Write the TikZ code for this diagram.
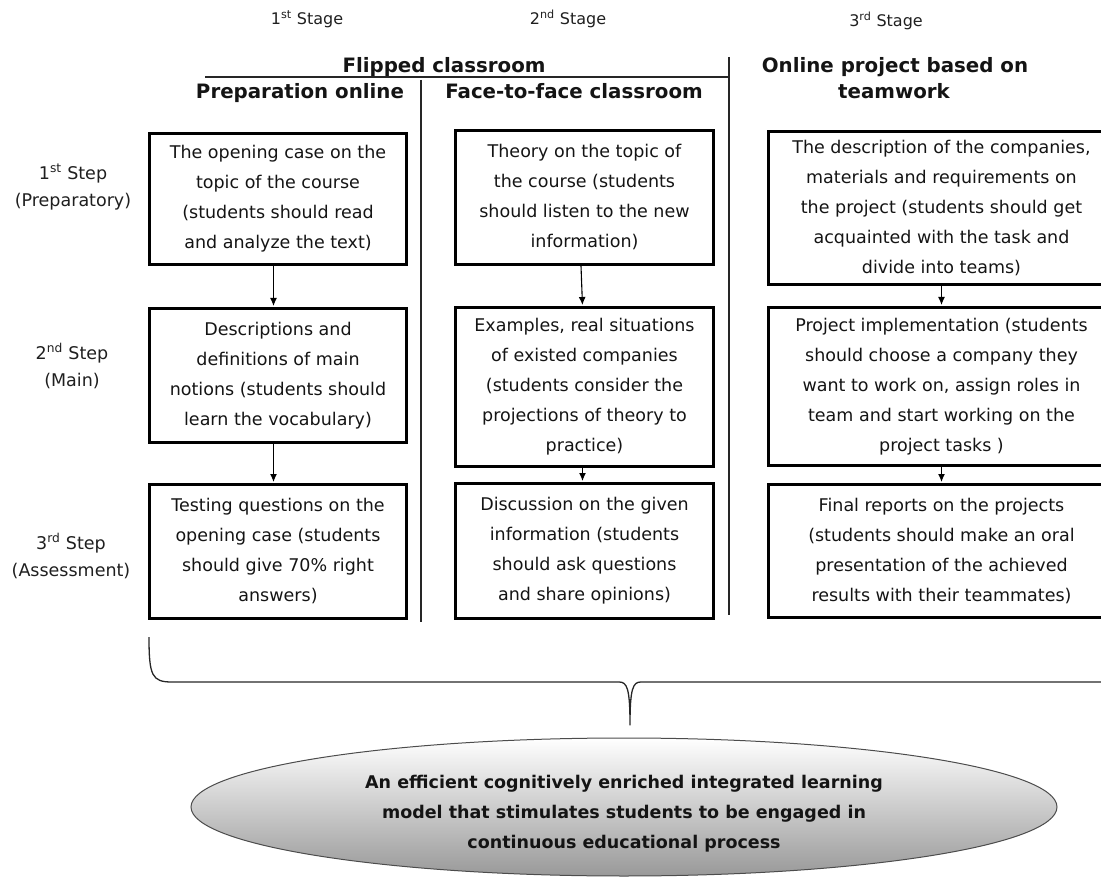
\documentclass[tikz,border=0pt]{standalone}
\usepackage{fontspec}
\setmainfont{DejaVu Sans}
\usetikzlibrary{arrows.meta,shapes.geometric}
\begin{document}
\begin{tikzpicture}[x=1pt,y=-1pt,
  stepbox/.style={draw=black, line width=3pt, align=center, inner sep=0pt,
    anchor=north west, font=\fontsize{17.5}{30}\selectfont, text=black!92},
  steplabel/.style={align=center, inner sep=0pt, font=\fontsize{17.5}{27}\selectfont, text=black!88},
  stagelabel/.style={anchor=base, inner sep=0pt, font=\fontsize{16}{18}\selectfont, text=black!88},
  hdr/.style={anchor=base, inner sep=0pt, font=\bfseries\fontsize{19.8}{24}\selectfont, text=black!92},
  arr/.style={line width=1.1pt, -{Latex[length=8pt,width=7pt]}, shorten >=1pt},
  rule/.style={line width=1.3pt, black!85},
  goal/.style={ellipse, draw=black!70, line width=1pt, top color=white, bottom color=black!40,
    minimum width=866pt, minimum height=138pt, inner sep=0pt},
  goaltext/.style={align=center, inner sep=0pt, font=\bfseries\fontsize{17.5}{30}\selectfont, text=black!92}
]
\useasboundingbox (0,0) rectangle (1101,877);

% stage labels
\node[stagelabel] (s1) at (307,25) {1\textsuperscript{st} Stage};
\node[stagelabel] (s2) at (568,25) {2\textsuperscript{nd} Stage};
\node[stagelabel] (s3) at (886,27) {3\textsuperscript{rd} Stage};

% headers
\node[hdr] (fc) at (444,73) {Flipped classroom};
\node[hdr] (po) at (300,99) {Preparation online};
\node[hdr] (ff) at (574,99) {Face-to-face classroom};
\node[hdr] (op) at (895,73) {Online project based on};
\node[hdr] (tw) at (894,99) {teamwork};

% separators
\draw[rule] (205,77) -- (729,77);
\draw[rule] (421,80) -- (421,622);
\draw[rule] (729,57) -- (729,615);

% step labels
\node[steplabel] (l1) at (73,187) {1\textsuperscript{st} Step\\(Preparatory)};
\node[steplabel] (l2) at (72,366) {2\textsuperscript{nd} Step\\(Main)};
\node[steplabel] (l3) at (71,556) {3\textsuperscript{rd} Step\\(Assessment)};

% column 1
\node[stepbox, minimum width=257pt, minimum height=131pt] (a1) at (148,132)
  {The opening case on the\\topic of the course\\(students should read\\and analyze the text)};
\node[stepbox, minimum width=257pt, minimum height=134pt] (a2) at (148,307)
  {Descriptions and\\definitions of main\\notions (students should\\learn the vocabulary)};
\node[stepbox, minimum width=257pt, minimum height=134pt] (a3) at (148,483)
  {Testing questions on the\\opening case (students\\should give 70\% right\\answers)};

% column 2
\node[stepbox, minimum width=258pt, minimum height=134pt] (b1) at (454,129)
  {Theory on the topic of\\the course (students\\should listen to the new\\information)};
\node[stepbox, minimum width=258pt, minimum height=159pt] (b2) at (454,306)
  {Examples, real situations\\of existed companies\\(students consider the\\projections of theory to\\practice)};
\node[stepbox, minimum width=258pt, minimum height=135pt] (b3) at (454,482)
  {Discussion on the given\\information (students\\should ask questions\\and share opinions)};

% column 3
\node[stepbox, minimum width=346pt, minimum height=153pt] (c1) at (767,130)
  {The description of the companies,\\materials and requirements on\\the project (students should get\\acquainted with the task and\\divide into teams)};
\node[stepbox, minimum width=346pt, minimum height=158pt] (c2) at (767,306)
  {Project implementation (students\\should choose a company they\\want to work on, assign roles in\\team and start working on the\\project tasks )};
\node[stepbox, minimum width=346pt, minimum height=133pt] (c3) at (767,483)
  {Final reports on the projects\\(students should make an oral\\presentation of the achieved\\results with their teammates)};

% arrows
\draw[arr] ([xshift=-4.5pt]a1.south) -- ([xshift=-4.5pt]a2.north);
\draw[arr] ([xshift=-4.5pt]a2.south) -- ([xshift=-4.5pt]a3.north);
\draw[arr] ([xshift=-3.5pt]b1.south) -- ([xshift=-2pt]b2.north);
\draw[arr] ([xshift=-2pt]b2.south) -- ([xshift=-2pt]b3.north);
\draw[arr] (c1.south) -- (c2.north);
\draw[arr] (c2.south) -- (c3.north);

% brace
\draw[line width=1.3pt, black!85, line join=round]
  (149,637) .. controls (149,676) and (152,682) .. (172,682) -- (619,682)
  .. controls (627,682) and (630,688) .. (630,725)
  .. controls (630,688) and (633,682) .. (641,682) -- (1106,682);

% goal ellipse
\node[goal] (goal) at (624,807) {};
\node[goaltext] (gt) at (624,814)
  {An efficient cognitively enriched integrated learning\\model that stimulates students to be engaged in\\continuous educational process};
\end{tikzpicture}
\end{document}
